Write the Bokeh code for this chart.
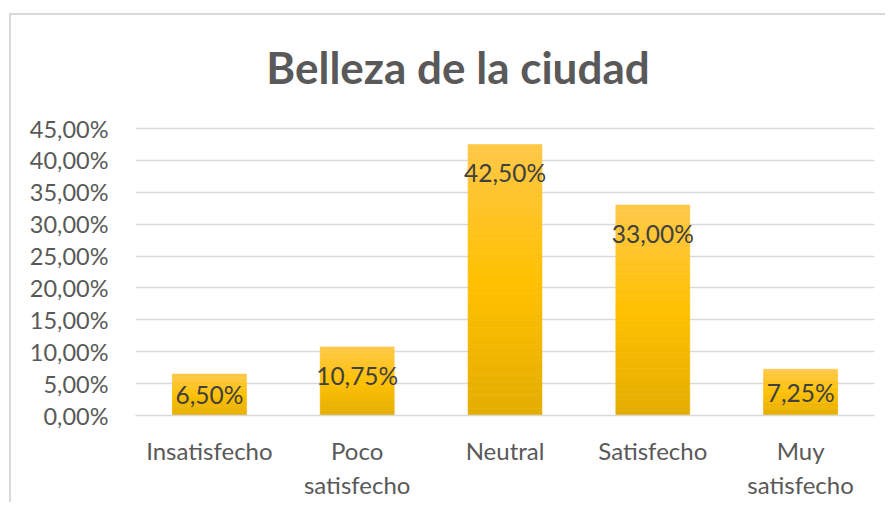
from bokeh.plotting import figure
from bokeh.models import FactorRange, Range1d, FixedTicker, ColumnDataSource
from bokeh.embed import file_html
from bokeh.resources import INLINE
from bokeh.core.properties import value

categories = ["Insatisfecho", "Poco\nsatisfecho", "Neutral", "Satisfecho", "Muy\nsatisfecho"]
values = [6.50, 10.75, 42.50, 33.00, 7.25]
y_ticks = [0, 5, 10, 15, 20, 25, 30, 35, 40, 45]
title_text = "Belleza de la ciudad"

FONT = "Lato"

# layout (pixels)
FIG_H = 489
BOTTOM = 89                 # x-axis panel
AXIS_PX = 287               # pixels spanned by 0..45 %
TITLE_BASE_PX = 349         # title baseline above the 0 line
frame_px = FIG_H - BOTTOM
units_per_px = y_ticks[-1] / AXIS_PX
y_end = frame_px * units_per_px

p = figure(x_range=FactorRange(*categories), y_range=Range1d(0, y_end),
           width=876, height=FIG_H, output_backend="svg", toolbar_location=None,
           min_border_left=124, min_border_right=13, min_border_bottom=BOTTOM,
           min_border_top=0)
p.margin = (13, 0, 0, 9)
p.styles = {"border-left": "2px solid #d9d9d9", "border-top": "2px solid #d9d9d9"}

p.outline_line_color = None
p.background_fill_color = "white"
p.border_fill_color = "white"

# chart title
p.text(x=[categories[2]], y=[TITLE_BASE_PX * units_per_px], text=[title_text],
       x_offset=-47, text_align="center", text_baseline="alphabetic",
       text_font=value(FONT), text_font_size="44px", text_font_style="bold",
       text_color="#595959")

# gradient bars via stacked slices
def lerp(c1, c2, t):
    return tuple(int(round(a + (b - a) * t)) for a, b in zip(c1, c2))

bottom_c = (0xE4, 0xAD, 0x00)
mid_c = (0xFF, 0xC0, 0x00)
top_c = (0xFF, 0xC8, 0x48)
N = 40
xs, bots, tops, cols = [], [], [], []
for cat, v in zip(categories, values):
    for k in range(N):
        t = (k + 0.5) / N
        c = lerp(bottom_c, mid_c, t / 0.5) if t < 0.5 else lerp(mid_c, top_c, (t - 0.5) / 0.5)
        xs.append(cat)
        bots.append(v * k / N)
        tops.append(v * (k + 1) / N)
        cols.append("#%02x%02x%02x" % c)
src = ColumnDataSource(dict(x=xs, bottom=bots, top=tops, color=cols))
p.vbar(x="x", bottom="bottom", top="top", width=0.5, fill_color="color",
       line_color="color", line_width=0.6, source=src)

# data labels (inside end)
inside = 4.4
label_y = [max(v - inside, v / 2) for v in values]
labels = [("%.2f" % v).replace(".", ",") + "%" for v in values]
lsrc = ColumnDataSource(dict(x=categories, y=label_y, text=labels))
p.text(x="x", y="y", text="text", source=lsrc, text_align="center",
       text_baseline="middle", text_font=value(FONT), text_font_size="24.5px",
       text_color="#404040")

# axes
p.yaxis.ticker = FixedTicker(ticks=y_ticks)
p.yaxis.major_label_overrides = {t: ("%.2f" % t).replace(".", ",") + "%" for t in y_ticks}
p.yaxis.axis_line_color = None
p.yaxis.major_tick_line_color = None
p.yaxis.minor_tick_line_color = None
p.yaxis.major_label_standoff = 21
p.yaxis.major_label_text_font = FONT
p.yaxis.major_label_text_font_size = "23.5px"
p.yaxis.major_label_text_color = "#595959"

p.xaxis.axis_line_color = "#d9d9d9"
p.xaxis.axis_line_width = 1.5
p.xaxis.major_tick_line_color = None
p.xaxis.minor_tick_line_color = None
p.xaxis.major_label_standoff = 14
p.xaxis.major_label_text_font = FONT
p.xaxis.major_label_text_font_size = "24px"
p.xaxis.major_label_text_color = "#595959"

p.xgrid.grid_line_color = None
p.ygrid.grid_line_color = "#d9d9d9"
p.ygrid.grid_line_width = 1.5
p.ygrid.level = "underlay"

open("out.html", "w").write(file_html(p, INLINE))
